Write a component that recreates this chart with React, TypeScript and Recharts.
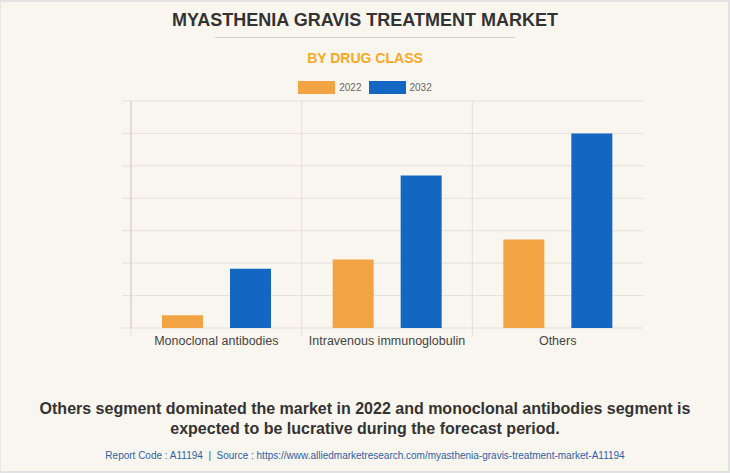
import React from 'react';
import { BarChart, Bar, XAxis, YAxis, CartesianGrid } from 'recharts';

const categories = ['Monoclonal antibodies', 'Intravenous immunoglobulin', 'Others'];
const values2022 = [0.39, 2.11, 2.73];
const values2032 = [1.83, 4.7, 6.0];
const yTicks = [0, 1, 2, 3, 4, 5, 6, 7];
const seriesNames = ['2022', '2032'];

const data = categories.map((name, i) => ({ name, v2022: values2022[i], v2032: values2032[i] }));

const ORANGE = '#F2A444';
const BLUE = '#1366C2';
const GRID = '#e4e0d8';
const AXIS = '#d2cec6';
const BG = '#F9F6EF';
const SANS = '"Liberation Sans", Arial, sans-serif';
const COLORS = [ORANGE, BLUE];

const EmptyTick = () => <g />;

const CategoryTick = (props: any) => {
  const { x, y, payload, width, visibleTicksCount } = props;
  const band = width / (visibleTicksCount || categories.length);
  const axisY = y - 8;
  return (
    <g>
      <line x1={x - band / 2} x2={x - band / 2} y1={axisY} y2={axisY + 8} stroke={GRID} />
      <text x={x} y={y} dy="0.71em" textAnchor="middle" fontSize={12.5} fill="#444" fontFamily={SANS}>
        {payload.value}
      </text>
    </g>
  );
};

const verticalGen = (p: any) => {
  const off = p && p.offset;
  if (!off) return [];
  return categories.map((_, i) => off.left + (i * off.width) / categories.length);
};

export default function App() {
  return (
    <div style={{ position: 'absolute', left: 0, top: 0, width: 730, height: 473, background: BG, boxSizing: 'border-box', borderTop: '2px solid #e2e2e2', borderLeft: '1px solid #e6e6e6', borderRight: '2px solid #e2e2e2', borderBottom: '2px solid #e2e2e2', overflow: 'hidden', fontFamily: SANS }}>
      <div style={{ position: 'absolute', left: -1, top: -2, width: 730, textAlign: 'center' }}>
        <div style={{ position: 'absolute', top: 10, width: 730, fontSize: 18, fontWeight: 'bold', color: '#333', lineHeight: '20px' }}>
          MYASTHENIA GRAVIS TREATMENT MARKET
        </div>
        <div style={{ position: 'absolute', top: 37, left: 215, width: 300, height: 1, background: '#cfcfcf' }} />
        <div style={{ position: 'absolute', top: 50, width: 730, fontSize: 14, fontWeight: 'bold', color: '#F9A825', lineHeight: '16px' }}>
          BY DRUG CLASS
        </div>
        <div style={{ position: 'absolute', top: 81, width: 730, display: 'flex', justifyContent: 'center', alignItems: 'center', fontSize: 10, color: '#666', lineHeight: '13px' }}>
          {seriesNames.map((n, i) => (
            <div key={n} style={{ display: 'flex', alignItems: 'center', marginRight: i === 0 ? 7 : 0 }}>
              <div style={{ width: 37, height: 13, background: COLORS[i], marginRight: 4 }} />
              <span>{n}</span>
            </div>
          ))}
        </div>
      </div>
      <div style={{ position: 'absolute', left: -1, top: -2 }}>
        <BarChart width={730} height={360} data={data} margin={{ top: 101, right: 87, left: 0, bottom: 0 }} barGap={27} style={{ fontFamily: SANS }}>
          <CartesianGrid xAxisId="cat" stroke={GRID} strokeWidth={1} verticalCoordinatesGenerator={verticalGen} />
          <XAxis xAxisId="cat" dataKey="name" tickLine={false} axisLine={false} height={32} interval={0} tick={<CategoryTick />} />
          <YAxis width={131} domain={[0, 7]} ticks={yTicks} tick={EmptyTick} tickSize={9} axisLine={{ stroke: AXIS }} tickLine={{ stroke: GRID }} />
          <Bar xAxisId="cat" dataKey="v2022" name={seriesNames[0]} fill={ORANGE} barSize={41} isAnimationActive={false} />
          <Bar xAxisId="cat" dataKey="v2032" name={seriesNames[1]} fill={BLUE} barSize={41} isAnimationActive={false} />
        </BarChart>
      </div>
      <div style={{ position: 'absolute', left: -1, top: 397, width: 730, textAlign: 'center', fontSize: 16, fontWeight: 'bold', color: '#333', lineHeight: '20px' }}>
        Others segment dominated the market in 2022 and monoclonal antibodies segment is<br />
        expected to be lucrative during the forecast period.
      </div>
      <div style={{ position: 'absolute', left: -1, top: 447, width: 730, textAlign: 'center', fontSize: 10, color: '#2F5FA7', lineHeight: '14px' }}>
        Report Code : A11194&nbsp; |&nbsp; Source : https://www.alliedmarketresearch.com/myasthenia-gravis-treatment-market-A11194
      </div>
    </div>
  );
}
